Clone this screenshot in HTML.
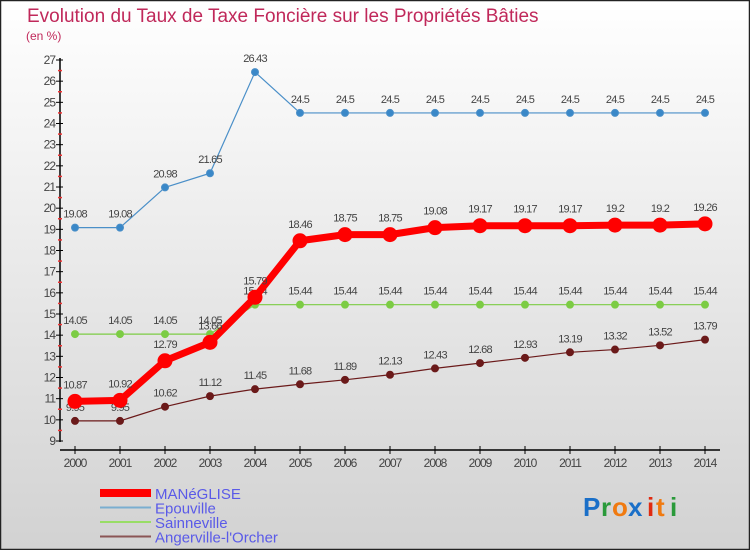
<!DOCTYPE html>
<html><head><meta charset="utf-8"><style>
html,body{margin:0;padding:0}
body{width:750px;height:550px;overflow:hidden;font-family:"Liberation Sans",sans-serif}
</style></head><body>
<svg id="chart" width="750" height="550" xmlns="http://www.w3.org/2000/svg" style="display:block">
<defs><linearGradient id="bg" x1="0" y1="0" x2="0" y2="1"><stop offset="0" stop-color="#ffffff"/><stop offset="1" stop-color="#d2d2d2"/></linearGradient></defs>
<rect x="0.5" y="0.5" width="749" height="549" fill="url(#bg)" stroke="#222" stroke-width="1.5"/>
<text x="27" y="22" font-size="19" fill="#c0285a">Evolution du Taux de Taxe Foncière sur les Propriétés Bâties</text>
<text x="26" y="40" font-size="12" fill="#c0285a">(en %)</text>
<g id="axes"></g><g id="series"></g><g id="legend"></g>
<g font-size="26" font-family="'Liberation Sans',sans-serif" font-weight="bold">
<text x="583" y="516" fill="#1a6fc8">P</text><text x="601" y="516" fill="#2a9a3a">r</text><text x="612" y="516" fill="#f07a10">o</text><text x="628" y="516" fill="#1a6fc8">x</text><text x="647" y="516" fill="#e02a10">i</text><text x="656" y="516" fill="#f07a10">t</text><text x="670" y="516" fill="#2a9a3a">i</text>
</g>
</svg>
<script>
const years=[2000,2001,2002,2003,2004,2005,2006,2007,2008,2009,2010,2011,2012,2013,2014];
const yTicks=[9,10,11,12,13,14,15,16,17,18,19,20,21,22,23,24,25,26,27];
const maneglise=[10.87,10.92,12.79,13.66,15.79,18.46,18.75,18.75,19.08,19.17,19.17,19.17,19.2,19.2,19.26];
const epouville=[19.08,19.08,20.98,21.65,26.43,24.5,24.5,24.5,24.5,24.5,24.5,24.5,24.5,24.5,24.5];
const sainneville=[14.05,14.05,14.05,14.05,15.44,15.44,15.44,15.44,15.44,15.44,15.44,15.44,15.44,15.44,15.44];
const angerville=[9.95,9.95,10.62,11.12,11.45,11.68,11.89,12.13,12.43,12.68,12.93,13.19,13.32,13.52,13.79];
const NS="http://www.w3.org/2000/svg";
const X=i=>75+i*45;
const Y=v=>441-(v-9)*(381/18);
function mk(p,t,a){const e=document.createElementNS(NS,t);for(const k in a)e.setAttribute(k,a[k]);p.appendChild(e);return e;}
const axes=document.getElementById('axes');
const ya=mk(axes,'line',{x1:60,y1:58,x2:60,y2:442,stroke:'#000','stroke-width':1.5});


const xa=mk(axes,'line',{x1:60,y1:450,x2:720,y2:450,stroke:'#000','stroke-width':1.5});


yTicks.forEach(v=>{
  mk(axes,'line',{x1:56,x2:63,y1:Y(v),y2:Y(v),stroke:'#000'});
  if(v<27)mk(axes,'line',{x1:58,x2:62,y1:Y(v+0.5),y2:Y(v+0.5),stroke:'#e33','stroke-width':1.5});
  const t=mk(axes,'text',{x:55,y:Y(v)+4,'text-anchor':'end','font-size':12,fill:'#444','letter-spacing':'-1'});
  t.textContent=v;
  
  
});
years.forEach((yr,i)=>{
  mk(axes,'line',{x1:X(i),x2:X(i),y1:446,y2:454,stroke:'#000'});
  const t=mk(axes,'text',{x:X(i),y:467,'text-anchor':'middle','font-size':12,fill:'#444','letter-spacing':'-1'});
  t.textContent=yr;
  
  
});
const ser=document.getElementById('series');
function draw(name,vals,color,w,r,fill,labelDy){
  const g=mk(ser,'g',{});
  
  
  const l=mk(g,'polyline',{points:vals.map((v,i)=>X(i)+','+Y(v)).join(' '),fill:'none',stroke:color,'stroke-width':w,'stroke-linejoin':'round'});
  
  
  vals.forEach((v,i)=>{
    const c=mk(g,'circle',{cx:X(i),cy:Y(v),r:r,fill:fill,stroke:color,'stroke-width':1});
    
    
    const t=mk(g,'text',{x:X(i),y:Y(v)+labelDy,'text-anchor':'middle','font-size':11,fill:'#444','letter-spacing':'-0.8'});
    t.textContent=v;
    
    
  });
}
draw('angerville',angerville,'#6b1a1a',1.2,3.5,'#6b1a1a',-10);
draw('sainneville',sainneville,'#7ccc44',1.2,3.5,'#7ccc44',-10);
draw('epouville',epouville,'#4a8fc8',1.2,3.5,'#3a88c8',-10);
draw('maneglise',maneglise,'#ff0000',7,7,'#ff0000',-13);
const lg=document.getElementById('legend');
[['maneglise-legend','MANéGLISE','#ff0000',8],['epouville-legend','Epouville','#7aaed0',2],['sainneville-legend','Sainneville','#99dd66',2],['angerville-legend','Angerville-l\'Orcher','#8b5555',2]].forEach((d,i)=>{
  const y=493+i*14.5;
  const g=mk(lg,'g',{});
  
  
  mk(g,'line',{x1:100,x2:151,y1:y,y2:y,stroke:d[2],'stroke-width':d[3]});
  const t=mk(g,'text',{x:155,y:y+6,'font-size':15,fill:'#5a5ae8'});
  t.textContent=d[1];
});
</script>
</body></html>
